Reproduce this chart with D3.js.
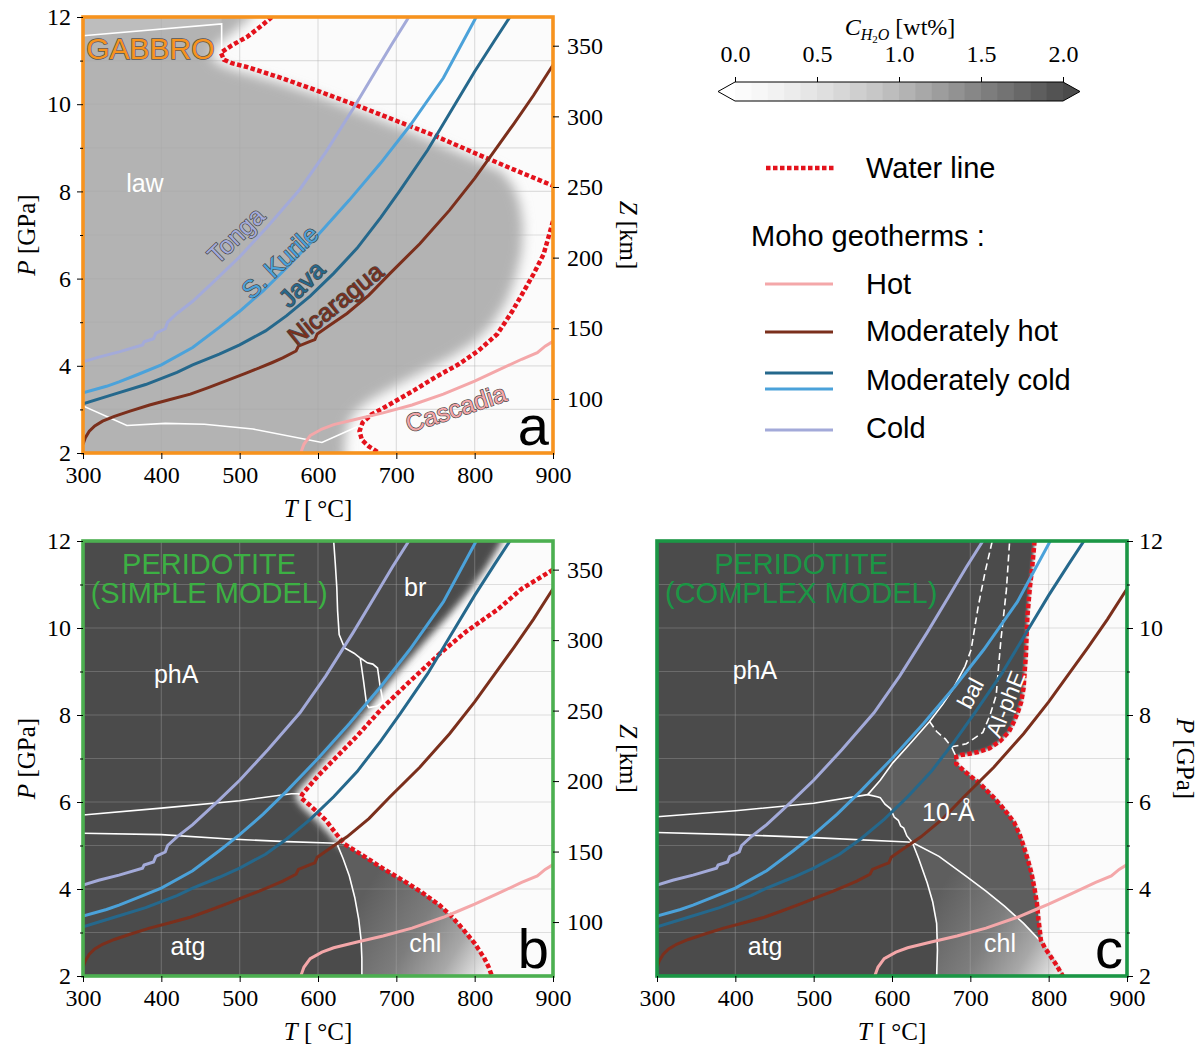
<!DOCTYPE html>
<html>
<head>
<meta charset="utf-8">
<script src="https://cdn.jsdelivr.net/npm/d3@7"></script>
<style>
  body { margin: 0; background: #fff; }
  #container { width: 1204px; height: 1048px; }
</style>
</head>
<body>
<div id="container"></div>
<script>
// ---- axis ticks ----
var tempTicks = [300, 400, 500, 600, 700, 800, 900];
var presTicks = [2, 4, 6, 8, 10, 12];
var presMinor = [3, 5, 7, 9, 11];
var gridT = [400, 500, 600, 700, 800];
var gridP = [3, 4, 5, 6, 7, 8, 9, 10, 11];
var depthTicks = [100, 150, 200, 250, 300, 350];
var kmPerGPa = 30.86;
var cbTicks = [0, 0.5, 1.0, 1.5, 2.0];
var cbLevels = [0, 0.1, 0.2, 0.3, 0.4, 0.5, 0.6, 0.7, 0.8, 0.9, 1.0, 1.1, 1.2, 1.3, 1.4, 1.5, 1.6, 1.7, 1.8, 1.9];

// ---- Moho geotherms [T degC, P GPa] ----
var geoCold = [[300,4.09],[320,4.2],[346,4.32],[376,4.48],[378,4.55],[390,4.62],[393,4.75],[405,4.85],[408,5.0],[420,5.2],[440,5.48],[470,5.98],[500,6.5],[536,7.2],[577,8.05],[610,8.9],[645,9.9],[675,10.8],[695,11.4],[716,12]];
var geoKurile = [[300,3.38],[330,3.53],[346,3.63],[370,3.8],[400,4.02],[440,4.42],[474,4.88],[500,5.25],[530,5.72],[560,6.25],[600,7.0],[640,7.8],[680,8.65],[717,9.5],[760,10.6],[802,12]];
var geoJava = [[300,3.13],[340,3.35],[380,3.57],[420,3.85],[440,4.02],[474,4.27],[500,4.48],[533,4.8],[560,5.15],[590,5.6],[620,6.12],[650,6.7],[680,7.4],[705,8.03],[740,8.95],[770,9.85],[800,10.75],[825,11.45],[845,12]];
var geoNicaragua = [[300,2.2],[303,2.35],[308,2.5],[315,2.62],[325,2.73],[340,2.84],[360,2.96],[385,3.1],[410,3.22],[437,3.35],[460,3.5],[485,3.67],[509,3.84],[525,3.95],[541,4.07],[555,4.18],[572,4.34],[575,4.45],[590,4.56],[596,4.6],[599,4.73],[615,4.93],[637,5.2],[665,5.62],[692,6.12],[730,6.8],[768,7.57],[800,8.3],[820,8.8],[850,9.55],[875,10.2],[900,10.9]];
var geoCascadia = [[578,2.0],[582,2.2],[590,2.4],[605,2.55],[620,2.65],[650,2.78],[683,2.92],[720,3.1],[760,3.35],[780,3.5],[800,3.65],[830,3.9],[860,4.15],[880,4.3],[890,4.45],[900,4.56]];

// ---- water lines ----
var waterA1 = [[541,12],[528,11.8],[510,11.55],[490,11.35],[476,11.18],[480,11.02],[490,10.94],[510,10.85],[550,10.62],[596,10.33],[650,9.97],[700,9.62],[750,9.27],[800,8.88],[850,8.5],[900,8.13]];
var waterA2 = [[900,7.32],[895,7.0],[888,6.56],[875,6.1],[863,5.72],[848,5.25],[829,4.73],[805,4.35],[780,4.04],[750,3.74],[722,3.43],[690,3.1],[668,2.88],[657,2.7],[653,2.5],[656,2.3],[665,2.15],[678,2.0]];
var waterB = [[900,11.34],[860,10.9],[829,10.42],[790,9.93],[756,9.42],[720,8.82],[683,8.18],[649,7.5],[620,6.97],[600,6.6],[580,6.18],[578,6.1],[590,5.92],[610,5.58],[624,5.25],[634,5.03],[660,4.74],[683,4.47],[710,4.18],[732,3.93],[755,3.63],[770,3.38],[785,3.08],[800,2.75],[812,2.42],[818,2.2],[822,2.0]];
var waterC = [[782,12],[779,11.4],[776,10.93],[773,10.3],[772,9.93],[771,9.39],[769,8.9],[768,8.62],[765,8.3],[761,8.08],[755,7.82],[749,7.61],[738,7.4],[724,7.23],[710,7.15],[699,7.11],[688,7.08],[682,7.04],[682,6.88],[690,6.75],[699,6.61],[710,6.46],[719,6.3],[730,6.1],[739,5.92],[748,5.72],[756,5.53],[763,5.25],[768,4.99],[773,4.7],[778,4.37],[782,4.0],[785,3.68],[787,3.3],[789,3.0],[790,2.83],[795,2.65],[800,2.52],[810,2.25],[818,2.0]];

// ---- hydrated cores (smoothed toward the water line) ----
var coreA = [[250,13],[530,13],[515,12],[495,11.7],[470,11.35],[462,11.15],[470,10.95],[490,10.8],[550,10.5],[600,10.2],[650,9.85],[700,9.5],[750,9.12],[800,8.74],[835,8.45],[850,8.1],[858,7.7],[862,7.2],[860,6.6],[852,6.0],[840,5.45],[822,4.95],[800,4.55],[770,4.2],[732,3.85],[695,3.5],[665,3.2],[645,2.9],[637,2.6],[634,2.2],[634,1],[250,1]];
var coreB = [[250,13],[845,13],[835,12],[815,11.4],[793,10.85],[767,10.3],[738,9.72],[709,9.12],[684,8.6],[665,8.15],[640,7.6],[614,7.08],[594,6.66],[580,6.38],[570,6.15],[578,5.92],[598,5.58],[614,5.27],[624,5.05],[650,4.7],[675,4.42],[700,4.12],[722,3.87],[744,3.57],[758,3.33],[772,3.03],[787,2.7],[798,2.4],[806,2.2],[810,2.0],[810,1],[250,1]];
var coreC = [[250,13],[785,13]].concat(waterC).concat([[818,1],[250,1]]);

// ---- phase boundaries ----
var whiteA = [
  [[300,11.57],[477,11.84],[477,11.25]],
  [[300,3.08],[356,2.63],[405,2.68],[455,2.66],[517,2.55],[605,2.24],[650,2.6]]
];
var whiteB3 = [[624,5.05],[632,4.7],[640,4.3],[647,3.8],[652,3.3],[655,2.83],[656,2.4],[656,2.0]];
var whiteB = [
  [[300,5.7],[400,5.86],[500,6.03],[566,6.19],[575,6.19],[582,6.12]],
  [[300,5.28],[400,5.25],[487,5.15],[560,5.09],[624,5.05]],
  whiteB3,
  [[620,12],[622,11.5],[624,10.93],[625,10.4],[627,9.85],[634,9.54],[646,9.42],[654,9.31]],
  [[654,9.31],[663,9.2],[670,9.17],[676,9.08],[679,8.7],[683,8.31],[688,8.3]],
  [[654,9.31],[658,8.8],[662,8.25],[665,8.17],[675,8.2],[683,8.3]]
];
var whiteC1 = [[300,5.66],[400,5.8],[500,5.97],[569,6.17],[581,6.12],[585,6.1],[591,5.95],[598,5.85],[603,5.65],[608,5.58],[611,5.45],[615,5.4],[619,5.22],[626,5.07]];
var whiteC2 = [[300,5.3],[400,5.25],[500,5.18],[620,5.08],[626,5.07]];
var whiteC3 = [[626,5.07],[634,4.7],[645,4.14],[652,3.7],[657,3.21],[658,2.6],[657,2.0]];
var whiteC4 = [[626,5.07],[660,4.75],[694,4.3],[720,3.95],[744,3.6],[768,3.21],[788,2.83]];
var whiteC5 = [[569,6.17],[585,6.5],[601,6.9],[625,7.38],[648,7.85],[665,8.25],[677,8.57],[693,9.11]];
var whiteC6 = [[676,7.27],[679,7.15],[682,7.04]];
var dashC1 = [[693,9.11],[701,9.5],[710,10.49],[719,11.3],[728,12]];
var dashC2 = [[676,7.27],[685,7.3],[695,7.34],[716,7.6],[725,7.99],[733,8.45],[736,9.1],[739,9.72],[746,10.87],[750,11.95],[751,12]];
var dashC3 = [[648,7.85],[657,7.62],[668,7.45],[676,7.27]];

// ---- water content of the fields [wt%] ----
var wtDry = 0.02;
var wtGabbro = 1.0;
var wtGabbroHigh = 0.9;
var wtPeridotite = 2.5;
var wt10A = 1.88;
var wtChl = [1.82, 1.55, 1.1, 0.3];
var gabbroHigh = [[300,11.57],[477,11.84],[477,12.5],[250,12.5],[250,11.57]];

// ---- labels [text, T, P] ----
var labelsA = [['law', 379, 8.19]];
var labelsB = [['br', 724, 10.94], ['phA', 419, 8.94], ['atg', 434, 2.69], ['chl', 737, 2.76]];
var labelsC = [['phA', 425, 9.03], ['10-Å', 672, 5.77], ['atg', 438, 2.69], ['chl', 738, 2.76]];
var rotLabelsC = [['bal', 700, 8.5, -62], ['Al-phE', 745, 8.25, -68]];
var geoLabels = [['Tonga', 495, 7.0, -44], ['S. Kurile', 551, 6.39, -43], ['Java', 579, 5.88, -45], ['Nicaragua', 622, 5.43, -39], ['Cascadia', 776, 3.03, -18]];

var width = 470;
var serif = '"Liberation Serif", "DejaVu Serif", serif';
var sans = '"Liberation Sans", Arial, sans-serif';

var geotherms = [
  {name: 'Cascadia', data: geoCascadia, color: '#f4a7a9'},
  {name: 'Nicaragua', data: geoNicaragua, color: '#7b2f1c'},
  {name: 'Java', data: geoJava, color: '#25688c'},
  {name: 'S. Kurile', data: geoKurile, color: '#4ba2da'},
  {name: 'Tonga', data: geoCold, color: '#a3aad9'}
];

var cbColors = cbLevels.map(function(d, i) { return d3.interpolateGreys(0.03 + i * 0.71 / 19); });
var overColor = d3.interpolateGreys(0.765);

function wtColor(v) {
  if (v < 0) return '#ffffff';
  if (v >= 2) return overColor;
  return cbColors[Math.min(19, Math.floor(v * 10 + 1e-9))];
}

function geoColor(name) {
  return geotherms.filter(function(g) { return g.name === name; })[0].color;
}

function styleAxis(sel) {
  sel.select('.domain').remove();
  sel.selectAll('text').attr('font-family', serif).attr('font-size', 24).attr('fill', '#000');
  sel.selectAll('line').attr('stroke', '#000');
}

function drawPanel(svg, defs, cfg) {
  var h = cfg.height;
  var x = d3.scaleLinear().domain([300, 900]).range([0, width]);
  var y = d3.scaleLinear().domain([2, 12]).range([h, 0]);
  var line = d3.line().x(function(d) { return x(d[0]); }).y(function(d) { return y(d[1]); });
  var shape = function(pts) { return line(pts) + 'Z'; };

  var g = svg.append('g').attr('transform', 'translate(' + cfg.left + ',' + cfg.top + ')');

  defs.append('clipPath').attr('id', 'clip-' + cfg.id)
    .append('rect').attr('width', width).attr('height', h);
  defs.append('filter').attr('id', 'blur-' + cfg.id)
    .attr('filterUnits', 'userSpaceOnUse')
    .attr('x', -200).attr('y', -200).attr('width', width + 400).attr('height', h + 400)
    .append('feGaussianBlur').attr('stdDeviation', cfg.blur);

  var grad = defs.append('linearGradient').attr('id', 'chl-' + cfg.id)
    .attr('gradientUnits', 'userSpaceOnUse')
    .attr('x1', x(655)).attr('y1', y(3.8)).attr('x2', x(812)).attr('y2', y(2.05));
  [0, 0.45, 0.75, 1].forEach(function(o, i) {
    grad.append('stop').attr('offset', o).attr('stop-color', wtColor(wtChl[i]));
  });

  var plot = g.append('g').attr('clip-path', 'url(#clip-' + cfg.id + ')');
  plot.append('rect').attr('width', width).attr('height', h).attr('fill', wtColor(wtDry));

  plot.append('path').attr('d', shape(cfg.core))
    .attr('fill', wtColor(cfg.coreWt))
    .attr('filter', 'url(#blur-' + cfg.id + ')');

  cfg.patches.forEach(function(p) {
    plot.append('path').attr('d', shape(p.pts))
      .attr('fill', p.gradient ? 'url(#chl-' + cfg.id + ')' : wtColor(p.wt));
  });

  // grid
  plot.selectAll('line.gx').data(gridT).enter().append('line')
    .attr('x1', function(d) { return x(d); }).attr('x2', function(d) { return x(d); })
    .attr('y1', 0).attr('y2', h)
    .attr('stroke', '#a8a8a8').attr('stroke-opacity', 0.35).attr('stroke-width', 1.2);
  plot.selectAll('line.gy').data(gridP).enter().append('line')
    .attr('y1', function(d) { return y(d); }).attr('y2', function(d) { return y(d); })
    .attr('x1', 0).attr('x2', width)
    .attr('stroke', '#a8a8a8').attr('stroke-opacity', 0.35).attr('stroke-width', 1.2);

  // phase boundaries
  cfg.white.forEach(function(pts) {
    plot.append('path').attr('d', line(pts)).attr('fill', 'none')
      .attr('stroke', '#fff').attr('stroke-width', 1.6);
  });
  (cfg.dashed || []).forEach(function(pts) {
    plot.append('path').attr('d', line(pts)).attr('fill', 'none')
      .attr('stroke', '#fff').attr('stroke-width', 1.6).attr('stroke-dasharray', '7,4');
  });

  // water line
  cfg.water.forEach(function(pts) {
    plot.append('path').attr('d', line(pts)).attr('fill', 'none')
      .attr('stroke', '#e4121c').attr('stroke-width', 4.5)
      .attr('stroke-dasharray', '4.5,2.5');
  });

  // geotherms
  plot.selectAll('path.geo').data(geotherms).enter().append('path')
    .attr('class', 'geo')
    .attr('d', function(d) { return line(d.data); })
    .attr('fill', 'none')
    .attr('stroke', function(d) { return d.color; })
    .attr('stroke-width', 3);

  // field labels
  plot.selectAll('text.field').data(cfg.labels).enter().append('text')
    .attr('x', function(d) { return x(d[1]); })
    .attr('y', function(d) { return y(d[2]); })
    .attr('text-anchor', 'middle').attr('dominant-baseline', 'central')
    .attr('font-family', sans).attr('font-size', 25).attr('fill', '#fff')
    .text(function(d) { return d[0]; });
  (cfg.rotLabels || []).forEach(function(d) {
    plot.append('text')
      .attr('transform', 'translate(' + x(d[1]) + ',' + y(d[2]) + ') rotate(' + d[3] + ')')
      .attr('text-anchor', 'middle').attr('dominant-baseline', 'central')
      .attr('font-family', sans).attr('font-size', 23).attr('fill', '#fff')
      .text(d[0]);
  });
  if (cfg.geoLabels) {
    geoLabels.forEach(function(d) {
      plot.append('text')
        .attr('transform', 'translate(' + x(d[1]) + ',' + y(d[2]) + ') rotate(' + d[3] + ')')
        .attr('text-anchor', 'middle').attr('dominant-baseline', 'central')
        .attr('font-family', sans).attr('font-size', 25)
        .attr('fill', geoColor(d[0]))
        .attr('stroke', '#4a4a4a').attr('stroke-width', 1.4).attr('paint-order', 'stroke')
        .text(d[0]);
    });
  }

  // rock title
  var title = plot.append('text')
    .attr('font-family', sans).attr('font-size', cfg.titleSize)
    .attr('fill', cfg.titleColor).attr('text-anchor', cfg.titleAnchor);
  if (cfg.titleStroke) {
    title.attr('stroke', '#555').attr('stroke-width', 1.4).attr('paint-order', 'stroke');
  }
  cfg.title.forEach(function(t, i) {
    title.append('tspan').attr('x', x(cfg.titleT)).attr('y', cfg.titleY + i * 29).text(t);
  });

  // panel letter
  plot.append('text').attr('x', width - 4).attr('y', h - 8)
    .attr('text-anchor', 'end').attr('font-family', sans).attr('font-size', 56)
    .attr('fill', '#000').text(cfg.letter);

  // frame
  g.append('rect').attr('width', width).attr('height', h)
    .attr('fill', 'none').attr('stroke', cfg.frame).attr('stroke-width', 3.6);

  // axes
  g.append('g').attr('transform', 'translate(0,' + h + ')')
    .call(d3.axisBottom(x).tickValues(tempTicks).tickSize(6).tickPadding(7))
    .call(styleAxis);
  var tl = g.append('text').attr('x', width / 2).attr('y', h + 64)
    .attr('text-anchor', 'middle').attr('font-family', serif).attr('font-size', 25);
  tl.append('tspan').attr('font-style', 'italic').text('T');
  tl.append('tspan').text(' [\u2009°C]');

  if (cfg.leftAxis) {
    g.append('g').call(d3.axisLeft(y).tickValues(presTicks).tickSize(6).tickPadding(6)).call(styleAxis);
    g.append('g').call(d3.axisLeft(y).tickValues(presMinor).tickSize(3).tickFormat('')).call(styleAxis);
    var pl = g.append('text')
      .attr('transform', 'translate(-48,' + (h / 2) + ') rotate(-90)')
      .attr('text-anchor', 'middle').attr('font-family', serif).attr('font-size', 25);
    pl.append('tspan').attr('font-style', 'italic').text('P');
    pl.append('tspan').text(' [GPa]');
  }
  if (cfg.rightAxis === 'Z') {
    var z = d3.scaleLinear().domain([2 * kmPerGPa, 12 * kmPerGPa]).range([h, 0]);
    g.append('g').attr('transform', 'translate(' + width + ',0)')
      .call(d3.axisRight(z).tickValues(depthTicks).tickSize(6).tickPadding(8)).call(styleAxis);
    var zl = g.append('text')
      .attr('transform', 'translate(' + (width + 67) + ',' + (h / 2) + ') rotate(90)')
      .attr('text-anchor', 'middle').attr('font-family', serif).attr('font-size', 25);
    zl.append('tspan').attr('font-style', 'italic').text('Z');
    zl.append('tspan').text(' [km]');
  } else if (cfg.rightAxis === 'P') {
    g.append('g').attr('transform', 'translate(' + width + ',0)')
      .call(d3.axisRight(y).tickValues(presTicks).tickSize(6).tickPadding(6)).call(styleAxis);
    g.append('g').attr('transform', 'translate(' + width + ',0)')
      .call(d3.axisRight(y).tickValues(presMinor).tickSize(3).tickFormat('')).call(styleAxis);
    var pr = g.append('text')
      .attr('transform', 'translate(' + (width + 50) + ',' + (h / 2) + ') rotate(90)')
      .attr('text-anchor', 'middle').attr('font-family', serif).attr('font-size', 25);
    pr.append('tspan').attr('font-style', 'italic').text('P');
    pr.append('tspan').text(' [GPa]');
  }
}

function drawLegend(svg) {
  var cbX = d3.scaleLinear().domain([0, 2]).range([735, 1063]);
  var top = 82, hh = 19, tip = 17;
  var g = svg.append('g');

  g.selectAll('rect.cb').data(cbLevels).enter().append('rect')
    .attr('x', function(d) { return cbX(d); })
    .attr('y', top)
    .attr('width', cbX(0.1) - cbX(0) + 0.6)
    .attr('height', hh)
    .attr('fill', function(d) { return wtColor(d + 0.05); });
  g.append('path')
    .attr('d', 'M' + cbX(0) + ',' + top + 'L' + (cbX(0) - tip) + ',' + (top + hh / 2) + 'L' + cbX(0) + ',' + (top + hh) + 'Z')
    .attr('fill', wtColor(-1));
  g.append('path')
    .attr('d', 'M' + cbX(2) + ',' + top + 'L' + (cbX(2) + tip) + ',' + (top + hh / 2) + 'L' + cbX(2) + ',' + (top + hh) + 'Z')
    .attr('fill', overColor);
  g.append('path')
    .attr('d', 'M' + cbX(0) + ',' + top + 'L' + cbX(2) + ',' + top + 'L' + (cbX(2) + tip) + ',' + (top + hh / 2) +
      'L' + cbX(2) + ',' + (top + hh) + 'L' + cbX(0) + ',' + (top + hh) + 'L' + (cbX(0) - tip) + ',' + (top + hh / 2) + 'Z')
    .attr('fill', 'none').attr('stroke', '#000').attr('stroke-width', 1);

  g.append('g').attr('transform', 'translate(0,' + top + ')')
    .call(d3.axisTop(cbX).tickValues(cbTicks).tickSize(5).tickPadding(15).tickFormat(d3.format('.1f')))
    .call(styleAxis);

  var ct = g.append('text').attr('x', 900).attr('y', 35).attr('text-anchor', 'middle')
    .attr('font-family', serif).attr('font-size', 24);
  ct.append('tspan').attr('font-style', 'italic').text('C');
  ct.append('tspan').attr('font-style', 'italic').attr('font-size', 16).attr('dy', 5).text('H');
  ct.append('tspan').attr('font-size', 11).attr('dy', 3).text('2');
  ct.append('tspan').attr('font-style', 'italic').attr('font-size', 16).attr('dy', -3).text('O');
  ct.append('tspan').attr('dy', -5).text(' [wt%]');

  // water line entry
  g.append('line').attr('x1', 766).attr('x2', 834).attr('y1', 168).attr('y2', 168)
    .attr('stroke', '#e4121c').attr('stroke-width', 4.5).attr('stroke-dasharray', '4.5,2.5');
  g.append('text').attr('x', 866).attr('y', 168).attr('dominant-baseline', 'central')
    .attr('font-family', sans).attr('font-size', 29).text('Water line');

  g.append('text').attr('x', 751).attr('y', 236).attr('dominant-baseline', 'central')
    .attr('font-family', sans).attr('font-size', 29).text('Moho geotherms :');

  var rows = [
    {label: 'Hot', y: 284, lines: [[0, '#f4a7a9']]},
    {label: 'Moderately hot', y: 331, lines: [[1, '#7b2f1c']]},
    {label: 'Moderately cold', y: 380, lines: [[-7, '#25688c'], [9, '#4ba2da']]},
    {label: 'Cold', y: 428, lines: [[2, '#a3aad9']]}
  ];
  rows.forEach(function(r) {
    r.lines.forEach(function(l) {
      g.append('line').attr('x1', 765).attr('x2', 833).attr('y1', r.y + l[0]).attr('y2', r.y + l[0])
        .attr('stroke', l[1]).attr('stroke-width', 3);
    });
    g.append('text').attr('x', 866).attr('y', r.y).attr('dominant-baseline', 'central')
      .attr('font-family', sans).attr('font-size', 29).text(r.label);
  });
}

function drawChart() {
  var svg = d3.select('#container').append('svg')
    .attr('width', 1204).attr('height', 1048);
  var defs = svg.append('defs');

  var tenA = whiteC5.slice(0, 5).concat(dashC3).concat(whiteC6)
    .concat(waterC.slice(18, 36))
    .concat(whiteC4.slice().reverse())
    .concat(whiteC1.slice(3).reverse());
  var chlB = whiteB3.concat([[822, 2.0]]).concat(waterB.slice(15).reverse());
  var chlC = whiteC3.concat([[818, 2.0]]).concat(waterC.slice(35).reverse()).concat(whiteC4.slice().reverse());

  drawPanel(svg, defs, {
    id: 'a', left: 83, top: 17, height: 436, frame: '#f7931e', letter: 'a',
    blur: 6, core: coreA, coreWt: wtGabbro,
    patches: [{pts: gabbroHigh, wt: wtGabbroHigh}],
    white: whiteA, water: [waterA1, waterA2],
    labels: labelsA, geoLabels: true,
    title: ['GABBRO'], titleColor: '#f7931e', titleSize: 30, titleAnchor: 'start', titleT: 304, titleY: 42, titleStroke: true,
    leftAxis: true, rightAxis: 'Z'
  });
  drawPanel(svg, defs, {
    id: 'b', left: 83, top: 541, height: 435, frame: '#4caf50', letter: 'b',
    blur: 3.5, core: coreB, coreWt: wtPeridotite,
    patches: [{pts: chlB, gradient: true}],
    white: whiteB, water: [waterB],
    labels: labelsB,
    title: ['PERIDOTITE', '(SIMPLE MODEL)'], titleColor: '#3cb043', titleSize: 29, titleAnchor: 'middle', titleT: 461, titleY: 33,
    leftAxis: true, rightAxis: 'Z'
  });
  drawPanel(svg, defs, {
    id: 'c', left: 657, top: 541, height: 435, frame: '#1b9645', letter: 'c',
    blur: 1.5, core: coreC, coreWt: wtPeridotite,
    patches: [{pts: tenA, wt: wt10A}, {pts: chlC, gradient: true}],
    white: [whiteC1, whiteC2, whiteC3, whiteC4, whiteC5, whiteC6],
    dashed: [dashC1, dashC2, dashC3],
    water: [waterC],
    labels: labelsC, rotLabels: rotLabelsC,
    title: ['PERIDOTITE', '(COMPLEX MODEL)'], titleColor: '#1b9645', titleSize: 29, titleAnchor: 'middle', titleT: 484, titleY: 33,
    leftAxis: false, rightAxis: 'P'
  });

  drawLegend(svg);
}

drawChart();
</script>
</body>
</html>
